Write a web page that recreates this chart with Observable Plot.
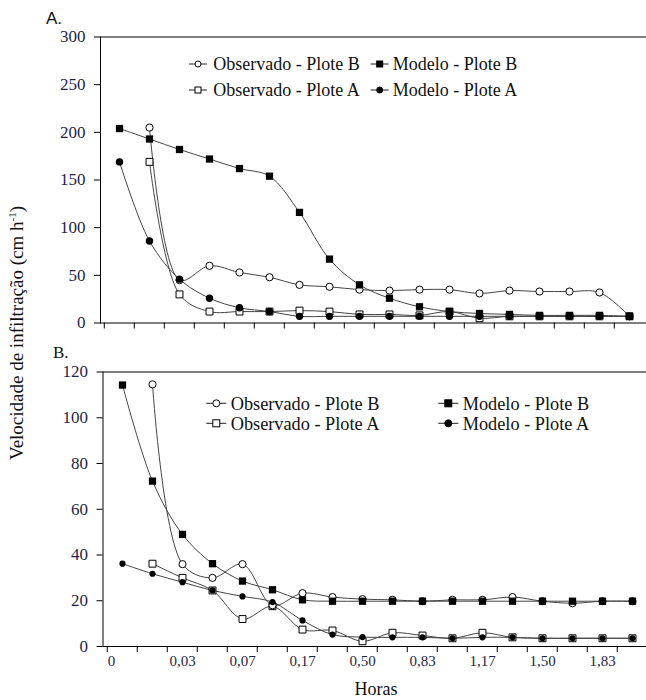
<!DOCTYPE html>
<html><head><meta charset="utf-8">
<script src="https://cdn.jsdelivr.net/npm/d3@7"></script>
<script src="https://cdn.jsdelivr.net/npm/@observablehq/plot@0.6"></script>
<style>
body{margin:0;background:#fff;}
#wrap{position:relative;width:646px;height:700px;overflow:hidden;background:#fff;}
#wrap > svg{position:absolute;left:0;}
.serif, .serif text{font-family:"Liberation Serif","DejaVu Serif",serif !important;}
</style>
</head><body><div id="wrap"></div>
<script>
// Categories (Horas)
const horas = ["0","0,02","0,03","0,05","0,07","0,10","0,17","0,33","0,50","0,67","0,83","1,00","1,17","1,33","1,50","1,67","1,83","2,00"];
const tickLabels = ["0,03","0,07","0,17","0,50","0,83","1,17","1,50","1,83"];
const firstLabel = ["0"];
const seriesNames = ["Observado - Plote B","Modelo - Plote B","Observado - Plote A","Modelo - Plote A"];

// Panel A
const aObsB = [null,205,45,60,53,48,40,38,35,34,35,35,31,34,33,33,32,7];
const aModB = [204,193,182,172,162,154,116,67,40,26,17,12,10,9,8,8,8,7];
const aObsA = [null,169,30,12,12,12,13,12,9,9,8,12,5,7,7,7,7,7];
const aModA = [169,86,46,26,16,12,7,7,7,7,7,7,7,7,7,7,7,7];
const aTicks = [0,50,100,150,200,250,300];

// Panel B
const bObsB = [null,114.6,36,30,36,18,23.3,21.6,20.7,20.4,19.8,20.4,20.4,21.6,19.8,18.9,19.8,19.8];
const bModB = [114.3,72.3,49,36.2,28.6,24.8,20.4,19.8,19.8,19.8,19.8,19.8,19.8,19.8,19.8,19.8,19.8,19.8];
const bObsA = [null,36.2,30,24.5,12,17.6,7.4,7,2.3,6,4.8,3.6,6,4,3.6,3.6,3.6,3.6];
const bModA = [36.2,31.8,28.1,24.5,21.9,19.4,11.4,5.2,4.1,4,4,3.6,4,4,3.6,3.6,3.6,3.6];
const bTicks = [0,20,40,60,80,100,120];

function toRows(arrs){
  const rows=[];
  seriesNames.forEach((s,i)=>arrs[i].forEach((v,j)=>{ if(v!=null) rows.push({hora:horas[j], value:v, serie:s}); }));
  return rows;
}

const navy = "#1f1f48";
const serif = '"Liberation Serif","DejaVu Serif",serif';

function panel(cfg){
  const rows = toRows(cfg.arrs);
  const bw = (cfg.x1 - cfg.x0)/horas.length;
  const sel = s => rows.filter(d=>d.serie===s);
  const marks = [
    Plot.frame({anchor:"top", stroke:"black"}),
    Plot.frame({anchor:"left", stroke:"black"}),
    Plot.frame({anchor:"bottom", stroke:"black"}),
    Plot.axisY({ticks: cfg.yTicks, tickSize: 6, tickPadding: 9, stroke:"black", fill: navy, fontSize: 17, label: null}),
    Plot.axisX({ticks: horas, tickSize: 6, tickFormat: () => "", dx: -bw/2, stroke:"black", label: null}),
    Plot.line(rows, {x:"hora", y:"value", z:"serie", curve:"catmull-rom", stroke:"#444", strokeWidth:1}),
    Plot.dot(sel(seriesNames[2]), {x:"hora", y:"value", symbol:"square", r:3.9, fill:"white", stroke:"black", strokeWidth:1}),
    Plot.dot(sel(seriesNames[0]), {x:"hora", y:"value", symbol:"circle", r:3.6, fill:"white", stroke:"black", strokeWidth:1}),
    Plot.dot(sel(seriesNames[3]), {x:"hora", y:"value", symbol:"circle", r:cfg.rModA, fill:"black", stroke:"none"}),
    Plot.dot(sel(seriesNames[1]), {x:"hora", y:"value", symbol:"square", r:4.1, fill:"black", stroke:"none"})
  ];
  if (cfg.labels){
    marks.push(Plot.axisX({ticks: tickLabels, tickSize: 0, tickPadding: 9, fill: navy, fontSize: 15, label: null}));
    marks.push(Plot.axisX({ticks: firstLabel, tickSize: 0, tickPadding: 9, dx: -11, fill: navy, fontSize: 15, label: null}));
  }
  const svg = Plot.plot({
    width: 646, height: cfg.height,
    marginTop: cfg.mt, marginBottom: cfg.mb, marginLeft: cfg.x0, marginRight: 0,
    style: {background:"transparent", overflow:"visible", fontFamily: serif},
    x: {type:"band", domain: horas, range:[cfg.x0, cfg.x1], padding:0},
    y: {domain:[0, cfg.yMax]},
    marks
  });
  svg.classList.add("serif");
  svg.style.top = cfg.top + "px";
  svg.style.position = "absolute";
  svg.style.left = "0px";
  document.getElementById("wrap").appendChild(svg);
}

panel({arrs:[aObsB,aModB,aObsA,aModA], yMax:300, yTicks:aTicks, top:0, height:340, mt:36.5, mb:17.5, x0:100, x1:647.6, labels:false, rModA:3.7});
panel({arrs:[bObsB,bModB,bObsA,bModA], yMax:120, yTicks:bTicks, top:340, height:360, mt:31.5, mb:54, x0:102.5, x1:651, labels:true, rModA:3.1});

// Overlay: panel letters, axis titles, legends
const ov = d3.select("#wrap").append("svg").attr("width",646).attr("height",700).style("top","0px").style("pointer-events","none");
ov.append("text").attr("x",46).attr("y",24).style("font-family","\"Liberation Sans\",Arial,sans-serif").attr("font-size",17).attr("fill","#111").text("A.");
const ovs = ov.append("g").attr("class","serif");
ovs.append("text").attr("x",53).attr("y",358).attr("font-size",17).attr("fill","#111").text("B.");
ovs.append("text").attr("x",376).attr("y",695).attr("text-anchor","middle").attr("font-size",18).attr("fill","#111").text("Horas");
const yt = ovs.append("text").attr("transform","translate(23,333) rotate(-90)").attr("text-anchor","middle")
  .attr("font-size",19).attr("fill","#111");
yt.append("tspan").text("Velocidade de infiltração (cm h");
yt.append("tspan").attr("font-size",11).attr("dy",-7).text("-1");
yt.append("tspan").attr("dy",7).text(")");

const legendStyles = [
  {sym:"circle", fill:"white"},
  {sym:"square", fill:"black"},
  {sym:"square", fill:"white"},
  {sym:"circle", fill:"black"}
];
function legend(cfg){
  seriesNames.forEach((name,i)=>{
    const col = i % 2, row = Math.floor(i/2);
    const cx = cfg.symX[col], cy = cfg.rows[row];
    const g = ovs.append("g");
    g.append("line").attr("x1",cx-cfg.half).attr("x2",cx+cfg.half).attr("y1",cy).attr("y2",cy).attr("stroke","#222").attr("stroke-width",1);
    const st = legendStyles[i];
    if (st.sym==="circle"){
      g.append("circle").attr("cx",cx).attr("cy",cy).attr("r",cfg.r).attr("fill",st.fill).attr("stroke","black");
    } else {
      g.append("rect").attr("x",cx-cfg.r).attr("y",cy-cfg.r).attr("width",2*cfg.r).attr("height",2*cfg.r).attr("fill",st.fill).attr("stroke","black");
    }
    g.append("text").attr("x",cfg.textX[col]).attr("y",cy).attr("dy","0.36em")
      .attr("font-size",cfg.fs).attr("fill","#111").text(name);
  });
}
legend({symX:[198,379.7], textX:[213.3,392.7], rows:[64,90], half:9, r:3, fs:18});
legend({symX:[216.3,448.3], textX:[230.7,462.7], rows:[403.3,423.3], half:10, r:3.5, fs:18.3});
</script>
</body></html>
